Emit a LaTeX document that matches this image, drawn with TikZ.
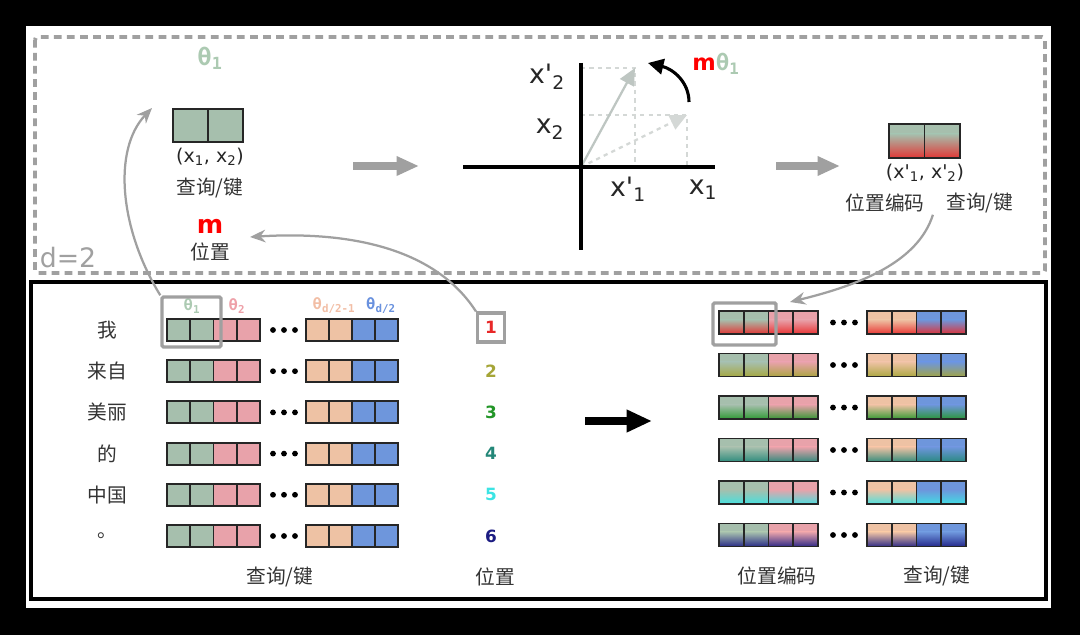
\documentclass[tikz,border=0pt]{standalone}
\usepackage{fontspec}
\setmainfont{DejaVu Sans}
\newfontfamily\cjk{Noto Sans CJK SC}
\newfontfamily\thetafont{DejaVu Sans Mono}
\usetikzlibrary{arrows.meta}
\usetikzlibrary{positioning}
\definecolor{cgreen}{RGB}{166, 191, 173}
\definecolor{cpink}{RGB}{232, 162, 170}
\definecolor{cpeach}{RGB}{238, 194, 164}
\definecolor{cblue}{RGB}{110, 150, 220}
\definecolor{tgreen}{RGB}{172, 202, 178}
\definecolor{tpink}{RGB}{238, 160, 168}
\definecolor{tpeach}{RGB}{242, 190, 165}
\definecolor{tblue}{RGB}{105, 145, 222}
\definecolor{dgrey}{RGB}{160, 160, 160}
\definecolor{vgrey}{RGB}{190, 198, 194}
\definecolor{lgrey}{RGB}{212, 216, 214}
\definecolor{pos1}{RGB}{232, 40, 40}
\definecolor{pos2}{RGB}{165, 165, 55}
\definecolor{pos3}{RGB}{35, 150, 40}
\definecolor{pos4}{RGB}{35, 135, 120}
\definecolor{pos5}{RGB}{60, 228, 228}
\definecolor{pos6}{RGB}{28, 28, 130}
\tikzset{cell/.style = {draw = black!85, line width = 1.3pt}}
\tikzset{selbox/.style = {draw = dgrey, line width = 2.4pt, rounded corners = 1pt, inner sep = 0}}
\tikzset{link/.style = {dgrey, line width = 1.6pt, -{Stealth[length = 11pt, width = 9pt]}}}
\tikzset{garrow/.style = {dgrey, line width = 5pt, -{Triangle[length = 16pt, width = 13pt]}}}
\tikzset{cn/.style = {font = \cjk\fontsize{14}{16}\selectfont, text = black!80, inner sep = 1pt}}
\tikzset{lab/.style = {font = \fontsize{19}{22}\selectfont, text = black!85, inner sep = 1pt}}
\tikzset{th/.style = {font = \thetafont\bfseries\fontsize{11}{12}\selectfont, inner sep = 1pt}}
\tikzset{num/.style = {font = \bfseries\fontsize{12}{14}\selectfont, inner sep = 1pt}}

\begin{document}
\begin{tikzpicture}[x = 0.025cm, y = -0.025cm]
  \useasboundingbox (0, 0) rectangle (1080, 635);
  \fill [black] (0, 0) rectangle (1080, 635);
  \fill [white] (26, 26) rectangle (1051, 608);

  % frames
  \draw [dgrey, line width = 2.8pt, dash pattern = on 5.5pt off 3.8pt, rounded corners = 2pt] (35, 37) rectangle (1045, 273);
  \draw [black, line width = 2.3pt] (31, 282) rectangle (1046, 599);
  \node (dtwo) [font = \fontsize{19}{22}\selectfont, text = dgrey] at (68, 258) {d=2};

  % top left: query/key pair
  \node (thetaTop) [font = \thetafont\bfseries\fontsize{17}{19}\selectfont, text = tgreen] at (210, 58) {θ\textsubscript{1}};
  \draw [cell, fill = cgreen] (173, 109) rectangle (208, 142);
  \draw [cell, fill = cgreen] (208, 109) rectangle (243, 142);
  \node (pairL) [font = \fontsize{13.5}{15}\selectfont, text = black!85] at (210, 157) {(x\textsubscript{1}, x\textsubscript{2})};
  \node (qkTop) [cn] at (210, 188) {查询/键};
  \node (mTop) [font = \bfseries\fontsize{18}{20}\selectfont, text = red] at (210, 226) {m};
  \node (posTop) [cn] at (210, 252) {位置};
  \coordinate (thetaIn) at (152, 108);
  \coordinate (posIn) at (250, 237);

  \draw [garrow] (353, 166) -- (419, 166);

  % rotation plot
  \coordinate (O) at (581, 167);
  \coordinate (v1) at (687, 115);
  \coordinate (v2) at (635, 68);
  \draw [lgrey, dashed, line width = 1.5pt] (581, 115) -- (v1) -- (687, 167);
  \draw [lgrey, dashed, line width = 1.5pt] (581, 68) -- (v2) -- (635, 167);
  \draw [lgrey, dashed, line width = 1.6pt, -{Triangle[length = 12pt, width = 11pt]}] (O) -- (v1);
  \draw [vgrey, line width = 1.6pt, -{Triangle[length = 12pt, width = 11pt]}] (O) -- (v2);
  \draw [line width = 3pt] (463, 167) -- (715, 167);
  \draw [line width = 3pt] (581, 63) -- (581, 250);
  \node (xp2) [lab] at (547, 77) {x\textquotesingle\textsubscript{2}};
  \node (x2) [lab] at (550, 129) {x\textsubscript{2}};
  \node (xp1) [lab] at (628, 189) {x\textquotesingle\textsubscript{1}};
  \node (x1) [lab] at (703, 190) {x\textsubscript{1}};
  \draw [line width = 2.2pt, -{Triangle[length = 11pt, width = 11pt]}] (689, 102) .. controls (689, 82) and (673, 69) .. (648, 63);
  \node (mtheta) [font = \bfseries\fontsize{16}{18}\selectfont, inner sep = 1pt] at (716, 64)
    {\textcolor{red}{m}\textcolor{tgreen}{\thetafont θ\textsubscript{1}}};

  \draw [garrow] (776, 166) -- (840, 166);

  % top right: encoded pair
  \foreach \xx in {889, 924.5} {
    \fill [cgreen] (\xx, 124) rectangle ++(35.5, 34);
    \shade [top color = cgreen, bottom color = pos1!90!cgreen] (\xx, 134) rectangle ++(35.5, 24);
    \draw [cell] (\xx, 124) rectangle ++(35.5, 34);
  }
  \node (pairR) [font = \fontsize{13.5}{15}\selectfont, text = black!85] at (925, 173) {(x\textquotesingle\textsubscript{1}, x\textquotesingle\textsubscript{2})};
  \node (peR) [cn] at (885, 203) {位置编码};
  \node (qkR) [cn] at (980, 203) {查询/键};
  \coordinate (peIn) at (790, 302);

  % bottom left: tokens, cells, positions
  \foreach \yy/\word/\pc [count = \r] in {330/我/pos1, 371.2/来自/pos2, 412.4/美丽/pos3, 453.6/的/pos4, 494.8/中国/pos5, 536/。/pos6} {
    \node (w\r) [cn] at (107, \yy) {\word};
    \foreach \i/\cc in {0/cgreen, 1/cgreen, 2/cpink, 3/cpink}
      \draw [cell, fill = \cc] (167 + \i*23.25, \yy - 11) rectangle ++(23.25, 22);
    \foreach \i/\cc in {0/cpeach, 1/cpeach, 2/cblue, 3/cblue}
      \draw [cell, fill = \cc] (306 + \i*23, \yy - 11) rectangle ++(23, 22);
    \foreach \xx in {273, 284, 295}
      \fill (\xx, \yy) circle (2.9);
    \ifnum\r>1
      \node (p\r) [num, text = \pc] at (491, \yy) {\r};
    \fi
  }
  \node (p1) [num, text = pos1, draw = dgrey, line width = 2.2pt, minimum width = 0.675cm, minimum height = 0.725cm] at (491, 327.5) {1};
  \node (th1) [th, text = tgreen] at (192, 306) {θ\textsubscript{1}};
  \node (th2) [th, text = tpink] at (237, 306) {θ\textsubscript{2}};
  \node (th3) [th, text = tpeach] at (334, 306) {θ\textsubscript{d/2-1}};
  \node (th4) [th, text = tblue] at (381, 306) {θ\textsubscript{d/2}};
  \node (selL) [selbox, minimum width = 1.475cm, minimum height = 1.25cm] at (191.5, 322) {};
  \node (qkL) [cn] at (280, 577) {查询/键};
  \node (posL) [cn] at (495, 577) {位置};

  \draw [black, line width = 5pt, -{Triangle[length = 18pt, width = 15pt]}] (585, 421) -- (652, 421);

  % bottom right: encoded cells
  \foreach \yy/\pc in {322.5/pos1, 365/pos2, 407.5/pos3, 450/pos4, 492.5/pos5, 535/pos6} {
    \foreach \i/\cc in {0/cgreen, 1/cgreen, 2/cpink, 3/cpink} {
      \fill [\cc] (719 + \i*24.75, \yy - 11.5) rectangle ++(24.75, 23);
      \shade [top color = \cc, bottom color = \pc!90!\cc] (719 + \i*24.75, \yy - 3) rectangle ++(24.75, 14.5);
      \draw [cell] (719 + \i*24.75, \yy - 11.5) rectangle ++(24.75, 23);
    }
    \foreach \i/\cc in {0/cpeach, 1/cpeach, 2/cblue, 3/cblue} {
      \fill [\cc] (867 + \i*24.75, \yy - 11.5) rectangle ++(24.75, 23);
      \shade [top color = \cc, bottom color = \pc!90!\cc] (867 + \i*24.75, \yy - 3) rectangle ++(24.75, 14.5);
      \draw [cell] (867 + \i*24.75, \yy - 11.5) rectangle ++(24.75, 23);
    }
    \foreach \xx in {833, 844, 855}
      \fill (\xx, \yy) circle (2.9);
  }
  \node (selR) [selbox, minimum width = 1.575cm, minimum height = 1.05cm] at (744.5, 324) {};
  \node (peB) [cn] at (777, 576) {位置编码};
  \node (qkB) [cn] at (937, 576) {查询/键};

  % connectors
  \draw [link] (selL.north west) .. controls (120, 230) and (112, 150) .. (thetaIn);
  \draw [link] (p1.north west) .. controls (430, 240) and (330, 232) .. (posIn);
  \draw [link] ([xshift = -0.3cm]qkR.south west) .. controls (918, 262) and (860, 285) .. (peIn);
\end{tikzpicture}
\end{document}
